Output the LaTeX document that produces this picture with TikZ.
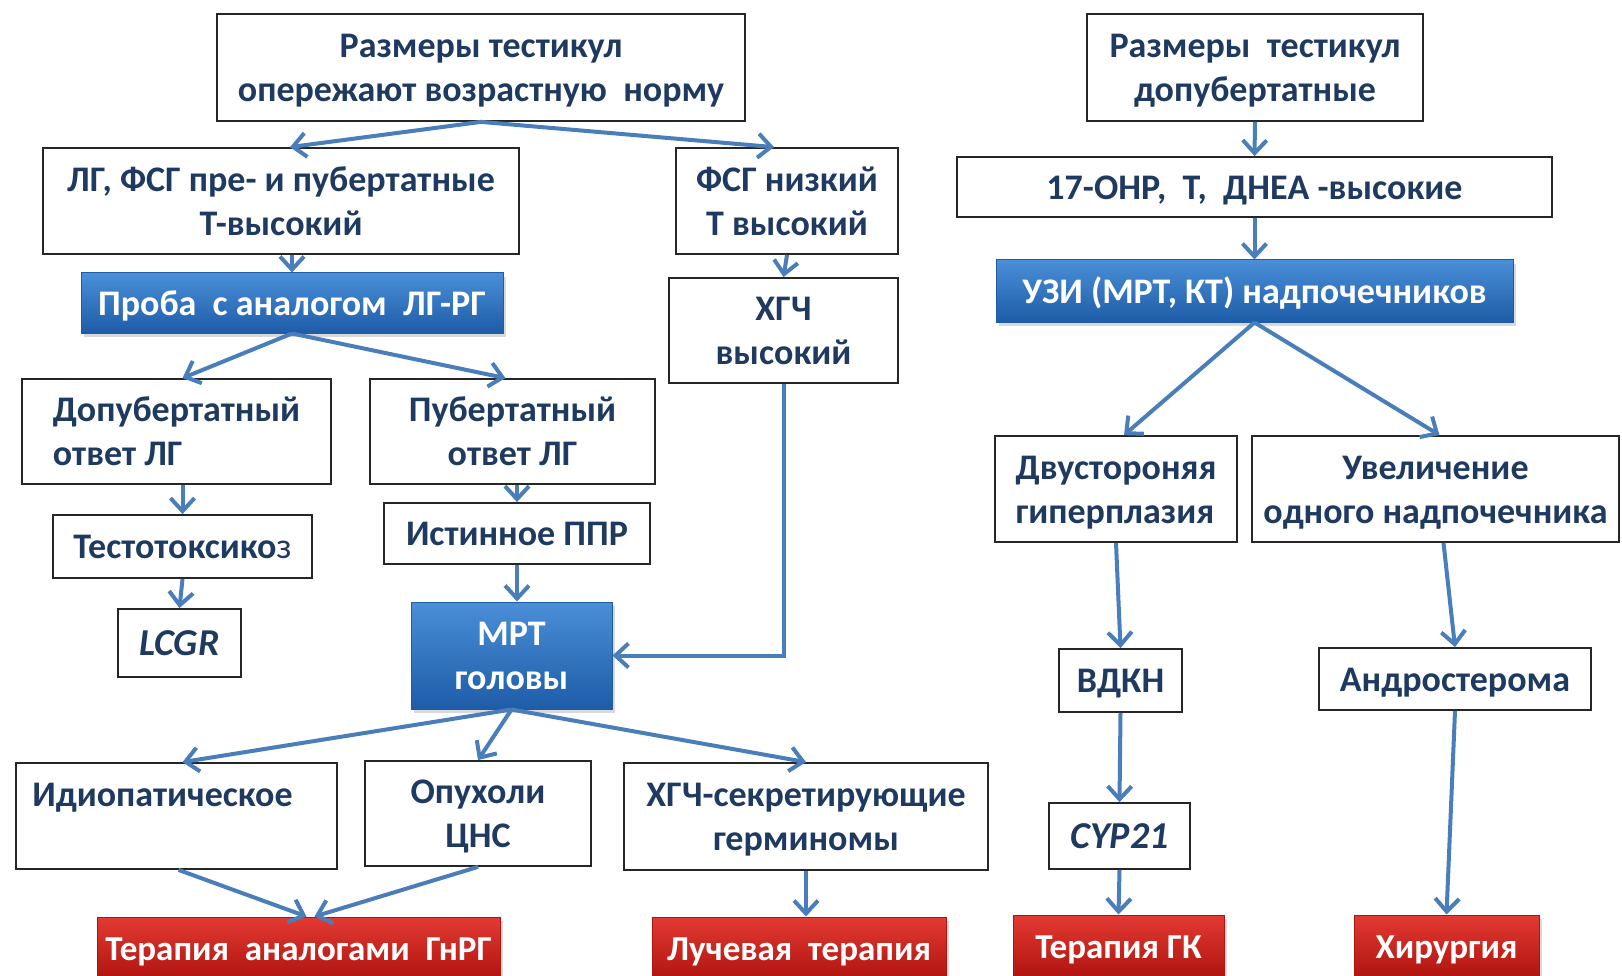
\documentclass[tikz,border=0pt]{standalone}
\usepackage{fontspec}
\setmainfont{Carlito}
\usetikzlibrary{arrows.meta,shadows}
\definecolor{txt}{HTML}{1F3A60}
\definecolor{arr}{HTML}{4A7EBB}
\definecolor{bluetop}{HTML}{4A8FD8}
\definecolor{bluebot}{HTML}{1E5CA8}
\definecolor{redtop}{HTML}{E33A33}
\definecolor{redbot}{HTML}{B0140F}
% struts: height of first line, depth of last line
\newcommand\hs{\rule{0pt}{33pt}}
\newcommand\ds{\rule[-8.5pt]{0pt}{8.5pt}}
\begin{document}
\begin{tikzpicture}[x=1pt,y=-1pt,
	box/.style={draw=black!85,line width=1.8pt,fill=white,inner sep=0pt,align=center,text=txt,font=\bfseries\fontsize{36}{44}\selectfont},
	bluebox/.style={box,draw=bluebot,line width=1pt,top color=bluetop,bottom color=bluebot,text=white,drop shadow={opacity=0.3,shadow xshift=3pt,shadow yshift=-4pt}},
	redbox/.style={bluebox,draw=redbot,top color=redtop,bottom color=redbot,font=\bfseries\fontsize{35}{44}\selectfont},
	gene/.style={font=\bfseries\itshape\fontsize{38}{44}\selectfont},
	link/.style={->,draw=arr,line width=4pt},
	>={Straight Barb[length=13pt,width=24pt]}]

	\useasboundingbox (0,0) rectangle (1622,976);

	% left branch
	\node[box,minimum width=528,minimum height=107] (top1) at (481,67.5) {\hs Размеры тестикул\\опережают возрастную\ \ норму\ds};
	\node[box,minimum width=476,minimum height=106] (lgfsg) at (281,201) {\hs ЛГ, ФСГ пре- и пубертатные\\Т-высокий\ds};
	\node[box,minimum width=222,minimum height=106] (fsg) at (787,201) {\hs ФСГ низкий\\Т высокий\ds};
	\node[box,minimum width=229,minimum height=105] (hcg) at (783.5,330.5) {\hs ХГЧ\\высокий\ds};
	\node[bluebox,minimum width=422,minimum height=60] (proba) at (292,303) {\hs Проба\ \ с аналогом\ \ ЛГ-РГ\ds};
	\node[box,align=left,minimum width=309,minimum height=105] (dop) at (176.5,431.5) {\hs Допубертатный\\ответ ЛГ\ds};
	\node[box,minimum width=285,minimum height=105] (pub) at (512.5,431.5) {\hs Пубертатный\\ответ ЛГ\ds};
	\node[box,minimum width=259,minimum height=63] (test) at (182.5,546.5) {\hs Тестотоксико{\mdseries з}\ds};
	\node[box,gene,minimum width=123,minimum height=68] (lcgr) at (179.5,643) {\hs LCGR\ds};
	\node[box,minimum width=266,minimum height=61] (ist) at (517,533.5) {\hs Истинное ППР\ds};
	\node[bluebox,minimum width=201,minimum height=107] (mrt) at (511.5,655.5) {\hs МРТ\\головы\ds};
	\node[box,minimum width=321,minimum height=106] (idio) at (176.5,816) {\hs Идиопатическое\kern28pt\\\ds};
	\node[box,minimum width=226,minimum height=105] (cns) at (478,813.5) {\hs Опухоли\\ЦНС\ds};
	\node[box,minimum width=364,minimum height=107] (hcgsec) at (806,816.5) {\hs ХГЧ-секретирующие\\герминомы\ds};
	\node[redbox,minimum width=403,minimum height=62] (ther1) at (298.5,948) {\hs Терапия\ \ аналогами\ \ ГнРГ\ds};
	\node[redbox,minimum width=294,minimum height=62] (ray) at (799,948) {\hs Лучевая\ \ терапия\ds};

	\draw[link] (top1.south) -- ([xshift=9pt]lgfsg.north);
	\draw[link] (top1.south) -- ([xshift=-13pt]fsg.north);
	\draw[link] (proba.north |- lgfsg.south) -- (proba.north);
	\draw[link] (fsg.south) -- (hcg.north);
	\draw[link] (proba.south) -- ([xshift=6pt]dop.north);
	\draw[link] (proba.south) -- ([xshift=-7pt]pub.north);
	\draw[link] ([xshift=6pt]dop.south) -- (test.north);
	\draw[link] (test.south) -- (lcgr.north);
	\draw[link] (ist.north |- pub.south) -- (ist.north);
	\draw[link] (ist.south) -- (ist.south |- mrt.north);
	\draw[link] (hcg.south) |- (mrt.east);
	\draw[link] (mrt.south) -- ([xshift=6pt]idio.north);
	\draw[link] (mrt.south) -- (cns.north);
	\draw[link] (mrt.south) -- (hcgsec.north);
	\draw[link] ([xshift=2pt]idio.south) -- ([xshift=8pt]ther1.north);
	\draw[link] (cns.south) -- ([xshift=16pt]ther1.north);
	\draw[link] (hcgsec.south) -- (ray.north -| hcgsec.south);

	% right branch
	\node[box,minimum width=336,minimum height=107] (top2) at (1255,67.5) {\hs Размеры\ \ тестикул\\допубертатные\ds};
	\node[box,minimum width=595,minimum height=60] (ohp) at (1254.5,187) {\hs 17-ОНР,\ \ Т,\ \ ДНЕА -высокие\ds};
	\node[bluebox,minimum width=517,minimum height=62] (uzi) at (1254.5,291) {\hs УЗИ (МРТ, КТ) надпочечников\ds};
	\node[box,align=left,minimum width=242,minimum height=106] (dvu) at (1116,489) {\hs Двустороняя\\гиперплазия\ds};
	\node[box,minimum width=367,minimum height=106] (uvel) at (1435.5,489) {\hs Увеличение\\одного\ надпочечника\ds};
	\node[box,minimum width=123,minimum height=63] (vdkn) at (1120.5,680.5) {\hs ВДКН\ds};
	\node[box,minimum width=272,minimum height=62] (andr) at (1455,679) {\hs Андростерома\ds};
	\node[box,gene,minimum width=141,minimum height=66] (cyp) at (1119.5,836) {\hs CYP21\ds};
	\node[redbox,minimum width=211,minimum height=62] (gk) at (1118.5,946) {\hs Терапия ГК\ds};
	\node[redbox,minimum width=185,minimum height=62] (hir) at (1446.5,946) {\hs Хирургия\ds};

	\draw[link] (top2.south) -- (ohp.north);
	\draw[link] (ohp.south) -- (uzi.north);
	\draw[link] (uzi.south) -- ([xshift=8pt]dvu.north);
	\draw[link] (uzi.south) -- ([xshift=4pt]uvel.north);
	\draw[link] (dvu.south) -- (vdkn.north);
	\draw[link] (vdkn.south) -- (cyp.north);
	\draw[link] (cyp.south) -- (gk.north);
	\draw[link] ([xshift=8pt]uvel.south) -- (andr.north);
	\draw[link] (andr.south) -- (hir.north);

\end{tikzpicture}
\end{document}
